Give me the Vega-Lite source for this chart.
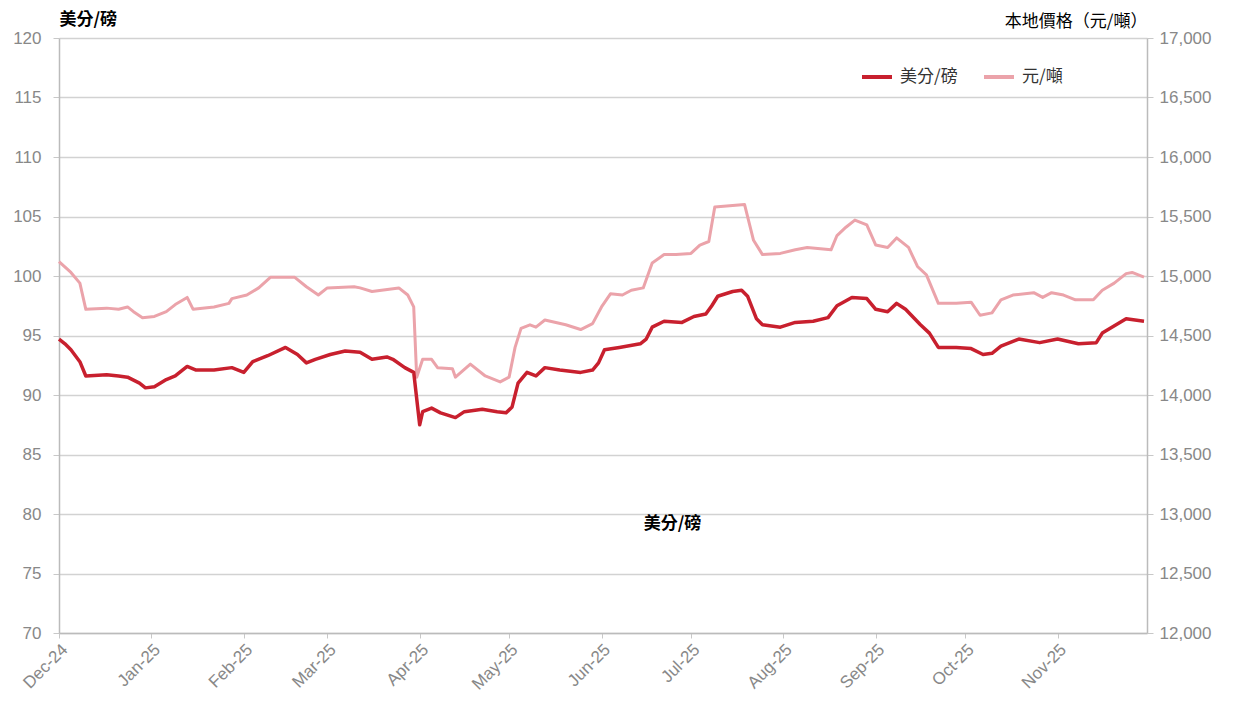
{
  "$schema": "https://vega.github.io/schema/vega-lite/v6.json",
  "width": 1088,
  "height": 595,
  "autosize": "none",
  "padding": {"left": 59, "top": 38, "right": 89, "bottom": 84},
  "background": "white",
  "config": {"view": {"stroke": null}, "font": "Liberation Sans"},
  "datasets": {
    "cents": [
      {"date": "2024-12-01", "cents": 94.7}, {"date": "2024-12-03", "cents": 94.3}, {"date": "2024-12-05", "cents": 93.8},
      {"date": "2024-12-08", "cents": 92.8}, {"date": "2024-12-10", "cents": 91.6}, {"date": "2024-12-17", "cents": 91.7},
      {"date": "2024-12-21", "cents": 91.6}, {"date": "2024-12-24", "cents": 91.5}, {"date": "2024-12-28", "cents": 91.0},
      {"date": "2024-12-30", "cents": 90.6}, {"date": "2025-01-02", "cents": 90.7}, {"date": "2025-01-06", "cents": 91.3},
      {"date": "2025-01-09", "cents": 91.6}, {"date": "2025-01-13", "cents": 92.4}, {"date": "2025-01-16", "cents": 92.1},
      {"date": "2025-01-22", "cents": 92.1}, {"date": "2025-01-28", "cents": 92.3}, {"date": "2025-02-01", "cents": 91.9},
      {"date": "2025-02-04", "cents": 92.8}, {"date": "2025-02-09", "cents": 93.3}, {"date": "2025-02-15", "cents": 94.0},
      {"date": "2025-02-19", "cents": 93.4}, {"date": "2025-02-22", "cents": 92.7}, {"date": "2025-02-25", "cents": 93.0},
      {"date": "2025-03-02", "cents": 93.4}, {"date": "2025-03-07", "cents": 93.7}, {"date": "2025-03-12", "cents": 93.6},
      {"date": "2025-03-16", "cents": 93.0}, {"date": "2025-03-21", "cents": 93.2}, {"date": "2025-03-23", "cents": 93.0},
      {"date": "2025-03-27", "cents": 92.3}, {"date": "2025-03-30", "cents": 91.9}, {"date": "2025-04-01", "cents": 87.5},
      {"date": "2025-04-02", "cents": 88.6}, {"date": "2025-04-05", "cents": 88.9}, {"date": "2025-04-08", "cents": 88.5},
      {"date": "2025-04-13", "cents": 88.1}, {"date": "2025-04-16", "cents": 88.6}, {"date": "2025-04-22", "cents": 88.8},
      {"date": "2025-04-27", "cents": 88.6}, {"date": "2025-04-30", "cents": 88.5}, {"date": "2025-05-02", "cents": 89.0},
      {"date": "2025-05-04", "cents": 91.0}, {"date": "2025-05-07", "cents": 91.9}, {"date": "2025-05-10", "cents": 91.6},
      {"date": "2025-05-13", "cents": 92.3}, {"date": "2025-05-18", "cents": 92.1}, {"date": "2025-05-25", "cents": 91.9},
      {"date": "2025-05-29", "cents": 92.1}, {"date": "2025-05-31", "cents": 92.7}, {"date": "2025-06-02", "cents": 93.8},
      {"date": "2025-06-07", "cents": 94.0}, {"date": "2025-06-14", "cents": 94.3}, {"date": "2025-06-16", "cents": 94.7},
      {"date": "2025-06-18", "cents": 95.7}, {"date": "2025-06-22", "cents": 96.2}, {"date": "2025-06-28", "cents": 96.1},
      {"date": "2025-07-02", "cents": 96.6}, {"date": "2025-07-06", "cents": 96.8}, {"date": "2025-07-08", "cents": 97.5},
      {"date": "2025-07-10", "cents": 98.3}, {"date": "2025-07-15", "cents": 98.7}, {"date": "2025-07-18", "cents": 98.8},
      {"date": "2025-07-20", "cents": 98.3}, {"date": "2025-07-23", "cents": 96.4}, {"date": "2025-07-25", "cents": 95.9},
      {"date": "2025-07-31", "cents": 95.7}, {"date": "2025-08-05", "cents": 96.1}, {"date": "2025-08-11", "cents": 96.2},
      {"date": "2025-08-16", "cents": 96.5}, {"date": "2025-08-19", "cents": 97.5}, {"date": "2025-08-24", "cents": 98.2},
      {"date": "2025-08-29", "cents": 98.1}, {"date": "2025-09-01", "cents": 97.2}, {"date": "2025-09-05", "cents": 97.0},
      {"date": "2025-09-08", "cents": 97.7}, {"date": "2025-09-11", "cents": 97.2}, {"date": "2025-09-16", "cents": 95.9},
      {"date": "2025-09-19", "cents": 95.2}, {"date": "2025-09-22", "cents": 94.0}, {"date": "2025-09-28", "cents": 94.0},
      {"date": "2025-10-03", "cents": 93.9}, {"date": "2025-10-07", "cents": 93.4}, {"date": "2025-10-10", "cents": 93.5},
      {"date": "2025-10-13", "cents": 94.1}, {"date": "2025-10-19", "cents": 94.7}, {"date": "2025-10-26", "cents": 94.4},
      {"date": "2025-11-01", "cents": 94.7}, {"date": "2025-11-08", "cents": 94.3}, {"date": "2025-11-14", "cents": 94.4},
      {"date": "2025-11-16", "cents": 95.2}, {"date": "2025-11-24", "cents": 96.4}, {"date": "2025-11-30", "cents": 96.2}
    ],
    "yuan": [
      {"date": "2024-12-01", "yuan": 15120}, {"date": "2024-12-05", "yuan": 15030}, {"date": "2024-12-08", "yuan": 14940},
      {"date": "2024-12-10", "yuan": 14720}, {"date": "2024-12-17", "yuan": 14730}, {"date": "2024-12-21", "yuan": 14720},
      {"date": "2024-12-24", "yuan": 14740}, {"date": "2024-12-26", "yuan": 14700}, {"date": "2024-12-29", "yuan": 14650},
      {"date": "2025-01-02", "yuan": 14660}, {"date": "2025-01-06", "yuan": 14700}, {"date": "2025-01-09", "yuan": 14760},
      {"date": "2025-01-13", "yuan": 14820}, {"date": "2025-01-15", "yuan": 14720}, {"date": "2025-01-22", "yuan": 14740},
      {"date": "2025-01-27", "yuan": 14770}, {"date": "2025-01-28", "yuan": 14810}, {"date": "2025-02-02", "yuan": 14840},
      {"date": "2025-02-06", "yuan": 14900}, {"date": "2025-02-10", "yuan": 14990}, {"date": "2025-02-18", "yuan": 14990},
      {"date": "2025-02-22", "yuan": 14910}, {"date": "2025-02-26", "yuan": 14840}, {"date": "2025-03-01", "yuan": 14900},
      {"date": "2025-03-10", "yuan": 14910}, {"date": "2025-03-12", "yuan": 14900}, {"date": "2025-03-16", "yuan": 14870},
      {"date": "2025-03-25", "yuan": 14900}, {"date": "2025-03-28", "yuan": 14840}, {"date": "2025-03-30", "yuan": 14740},
      {"date": "2025-03-31", "yuan": 14150}, {"date": "2025-04-02", "yuan": 14300}, {"date": "2025-04-05", "yuan": 14300},
      {"date": "2025-04-07", "yuan": 14230}, {"date": "2025-04-12", "yuan": 14220}, {"date": "2025-04-13", "yuan": 14150},
      {"date": "2025-04-18", "yuan": 14260}, {"date": "2025-04-23", "yuan": 14160}, {"date": "2025-04-28", "yuan": 14110},
      {"date": "2025-05-01", "yuan": 14150}, {"date": "2025-05-03", "yuan": 14400}, {"date": "2025-05-05", "yuan": 14560},
      {"date": "2025-05-08", "yuan": 14590}, {"date": "2025-05-10", "yuan": 14570}, {"date": "2025-05-13", "yuan": 14630},
      {"date": "2025-05-20", "yuan": 14590}, {"date": "2025-05-25", "yuan": 14550}, {"date": "2025-05-29", "yuan": 14600},
      {"date": "2025-06-01", "yuan": 14740}, {"date": "2025-06-04", "yuan": 14850}, {"date": "2025-06-08", "yuan": 14840},
      {"date": "2025-06-11", "yuan": 14880}, {"date": "2025-06-15", "yuan": 14900}, {"date": "2025-06-18", "yuan": 15110},
      {"date": "2025-06-22", "yuan": 15180}, {"date": "2025-06-26", "yuan": 15180}, {"date": "2025-07-01", "yuan": 15190},
      {"date": "2025-07-04", "yuan": 15260}, {"date": "2025-07-07", "yuan": 15290}, {"date": "2025-07-09", "yuan": 15580},
      {"date": "2025-07-14", "yuan": 15590}, {"date": "2025-07-19", "yuan": 15600}, {"date": "2025-07-22", "yuan": 15300},
      {"date": "2025-07-25", "yuan": 15180}, {"date": "2025-07-31", "yuan": 15190}, {"date": "2025-08-05", "yuan": 15220},
      {"date": "2025-08-09", "yuan": 15240}, {"date": "2025-08-17", "yuan": 15220}, {"date": "2025-08-19", "yuan": 15340},
      {"date": "2025-08-22", "yuan": 15410}, {"date": "2025-08-25", "yuan": 15470}, {"date": "2025-08-29", "yuan": 15430},
      {"date": "2025-09-01", "yuan": 15260}, {"date": "2025-09-05", "yuan": 15240}, {"date": "2025-09-08", "yuan": 15320},
      {"date": "2025-09-12", "yuan": 15240}, {"date": "2025-09-15", "yuan": 15080}, {"date": "2025-09-18", "yuan": 15010},
      {"date": "2025-09-22", "yuan": 14770}, {"date": "2025-09-28", "yuan": 14770}, {"date": "2025-10-03", "yuan": 14780},
      {"date": "2025-10-06", "yuan": 14670}, {"date": "2025-10-10", "yuan": 14690}, {"date": "2025-10-13", "yuan": 14800},
      {"date": "2025-10-17", "yuan": 14840}, {"date": "2025-10-24", "yuan": 14860}, {"date": "2025-10-27", "yuan": 14820},
      {"date": "2025-10-30", "yuan": 14860}, {"date": "2025-11-03", "yuan": 14840}, {"date": "2025-11-07", "yuan": 14800},
      {"date": "2025-11-13", "yuan": 14800}, {"date": "2025-11-16", "yuan": 14880}, {"date": "2025-11-20", "yuan": 14940},
      {"date": "2025-11-24", "yuan": 15020}, {"date": "2025-11-26", "yuan": 15030}, {"date": "2025-11-30", "yuan": 14990}
    ]
  },
  "encoding": {
    "x": {
      "field": "date",
      "type": "temporal",
      "scale": {
        "type": "utc",
        "domain": [
          {"year": 2024, "month": 12, "date": 1, "utc": true},
          {"year": 2025, "month": 12, "date": 1, "utc": true}
        ]
      },
      "axis": {
        "values": [
          {"year": 2024, "month": 12, "date": 1, "utc": true},
          {"year": 2025, "month": 1, "date": 1, "utc": true},
          {"year": 2025, "month": 2, "date": 1, "utc": true},
          {"year": 2025, "month": 3, "date": 1, "utc": true},
          {"year": 2025, "month": 4, "date": 1, "utc": true},
          {"year": 2025, "month": 5, "date": 1, "utc": true},
          {"year": 2025, "month": 6, "date": 1, "utc": true},
          {"year": 2025, "month": 7, "date": 1, "utc": true},
          {"year": 2025, "month": 8, "date": 1, "utc": true},
          {"year": 2025, "month": 9, "date": 1, "utc": true},
          {"year": 2025, "month": 10, "date": 1, "utc": true},
          {"year": 2025, "month": 11, "date": 1, "utc": true}
        ],
        "format": "%b-%y",
        "labelAngle": -45,
        "labelAlign": "right",
        "labelBaseline": "top",
        "labelFontSize": 17,
        "labelColor": "#888888",
        "labelPadding": 3,
        "labelFlush": false,
        "labelOverlap": false,
        "tickSize": 5,
        "tickColor": "#c8c8c8",
        "domainColor": "#bbbbbb",
        "domainWidth": 1.5,
        "grid": false,
        "title": "美分/磅",
        "titleFont": "Noto Sans CJK TC",
        "titleFontWeight": "bold",
        "titleFontSize": 17,
        "titleColor": "#000000",
        "titleX": 613,
        "titleY": -110,
        "titleBaseline": "middle",
        "titleAlign": "center"
      }
    }
  },
  "layer": [
    {
      "data": {"name": "yuan"},
      "mark": {"type": "line", "strokeWidth": 3, "strokeJoin": "round"},
      "encoding": {
        "y": {
          "field": "yuan",
          "type": "quantitative",
          "scale": {"domain": [12000, 17000], "nice": false, "zero": false},
          "axis": {
            "orient": "right",
            "values": [12000, 12500, 13000, 13500, 14000, 14500, 15000, 15500, 16000, 16500, 17000],
            "format": ",d",
            "grid": false,
            "labelFontSize": 17,
            "labelColor": "#888888",
            "labelPadding": 6,
            "tickSize": 6,
            "tickColor": "#c8c8c8",
            "domainColor": "#bbbbbb",
            "domainWidth": 1.5,
            "title": "本地價格（元/噸）",
            "titleFont": "Noto Sans CJK TC",
            "titleFontWeight": "normal",
            "titleFontSize": 17,
            "titleColor": "#000000",
            "titleAngle": 0,
            "titleAlign": "right",
            "titleBaseline": "middle",
            "titleX": 0,
            "titleY": -17
          }
        },
        "color": {
          "datum": "元/噸",
          "type": "nominal",
          "scale": {"domain": ["美分/磅", "元/噸"], "range": ["#c8202e", "#eba3aa"]},
          "legend": {
            "orient": "none",
            "legendX": 801,
            "legendY": 22,
            "direction": "horizontal",
            "title": null,
            "symbolType": "stroke",
            "symbolStrokeWidth": 4,
            "symbolSize": 900,
            "labelFont": "Noto Sans CJK TC",
            "labelFontSize": 17,
            "labelColor": "#333333",
            "labelOffset": 6,
            "columnPadding": 18
          }
        }
      }
    },
    {
      "data": {"name": "cents"},
      "mark": {"type": "line", "strokeWidth": 3.5, "strokeJoin": "round"},
      "encoding": {
        "y": {
          "field": "cents",
          "type": "quantitative",
          "scale": {"domain": [70, 120], "nice": false, "zero": false},
          "axis": {
            "orient": "left",
            "values": [70, 75, 80, 85, 90, 95, 100, 105, 110, 115, 120],
            "grid": true,
            "gridColor": "#d2d2d2",
            "gridWidth": 1.5,
            "labelFontSize": 17,
            "labelColor": "#888888",
            "labelPadding": 12,
            "tickSize": 6,
            "tickColor": "#c8c8c8",
            "domainColor": "#bbbbbb",
            "domainWidth": 1.5,
            "title": "美分/磅",
            "titleFont": "Noto Sans CJK TC",
            "titleFontWeight": "bold",
            "titleFontSize": 17,
            "titleColor": "#000000",
            "titleAngle": 0,
            "titleAlign": "left",
            "titleBaseline": "middle",
            "titleX": 0,
            "titleY": -19
          }
        },
        "color": {"datum": "美分/磅", "type": "nominal"}
      }
    }
  ],
  "resolve": {"scale": {"y": "independent"}}
}
